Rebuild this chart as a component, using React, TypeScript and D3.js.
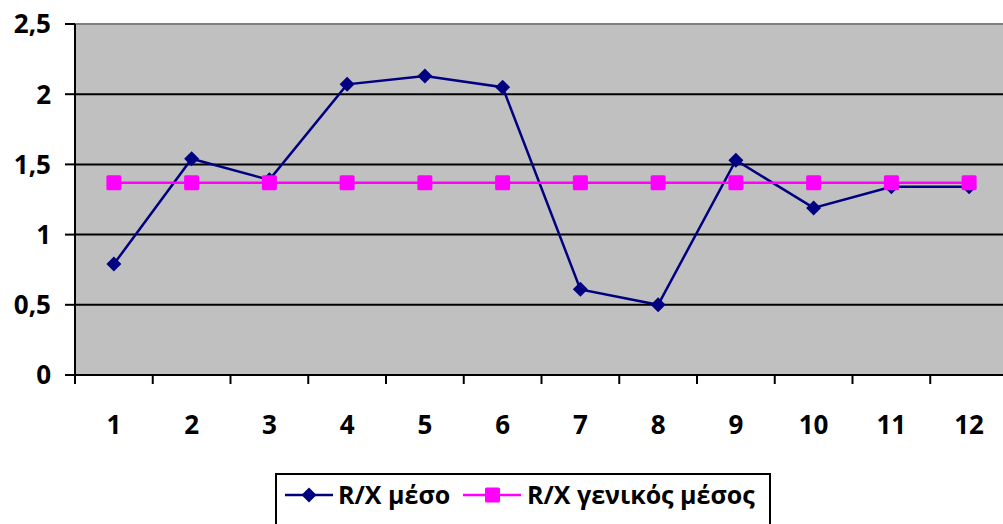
import React from "react";
import * as d3 from "d3";

const categories = ["1", "2", "3", "4", "5", "6", "7", "8", "9", "10", "11", "12"];
const rxMean = [0.79, 1.54, 1.39, 2.07, 2.13, 2.05, 0.61, 0.5, 1.53, 1.19, 1.34, 1.34];
const rxOverallMean = [1.37, 1.37, 1.37, 1.37, 1.37, 1.37, 1.37, 1.37, 1.37, 1.37, 1.37, 1.37];
const yTicks = [0, 0.5, 1, 1.5, 2, 2.5];
const seriesNames = ["R/X μέσο", "R/X γενικός μέσος"];

const W = 1003;
const H = 524;
const FONT = "'Open Sans', 'Liberation Sans', sans-serif";

export default function App() {
  const left = 75;
  const top = 24;
  const bottom = 375;
  const bandW = 77.75;
  const x = d3.scaleBand<string>().domain(categories).range([left, left + bandW * categories.length]).padding(0);
  const y = d3.scaleLinear().domain([0, 2.5]).range([bottom, top]);
  const cx = (c: string) => (x(c) as number) + x.bandwidth() / 2;
  const line = d3.line<number>().x((_, i) => cx(categories[i])).y((v) => y(v));
  const fmt = (v: number) => String(v).replace(".", ",");
  const right = left + bandW * categories.length;
  const diamond = (px: number, py: number, r: number) => `M${px},${py - r}L${px + r},${py}L${px},${py + r}L${px - r},${py}Z`;

  const legY = 495;

  return (
    <svg width={W} height={H} style={{ position: "absolute", left: 0, top: 0, background: "#fff" }} fontFamily={FONT}>
      <rect x={left} y={top} width={right - left} height={bottom - top} fill="#c0c0c0" />
      <line x1={left} x2={right} y1={top} y2={top} stroke="#808080" strokeWidth={2} />
      {yTicks.filter((t) => t > 0 && t < 2.5).map((t) => (
        <line key={t} x1={left} x2={right} y1={y(t)} y2={y(t)} stroke="#000" strokeWidth={2} />
      ))}
      {/* axes */}
      <line x1={left} x2={left} y1={top} y2={bottom + 1} stroke="#000" strokeWidth={2} />
      <line x1={left - 1} x2={right} y1={bottom} y2={bottom} stroke="#000" strokeWidth={2} />
      {yTicks.map((t) => (
        <g key={"yt" + t}>
          <line x1={left - 10} x2={left} y1={y(t)} y2={y(t)} stroke="#000" strokeWidth={2} />
          <text x={51} y={y(t)} dy="0.36em" textAnchor="end" fontSize={26} fontWeight="bold" fill="#000">
            {fmt(t)}
          </text>
        </g>
      ))}
      {categories.map((c) => (
        <g key={"xt" + c}>
          <line x1={x(c) as number} x2={x(c) as number} y1={bottom} y2={bottom + 9} stroke="#000" strokeWidth={2} />
          <text x={cx(c)} y={425} dy="0.36em" textAnchor="middle" fontSize={26} fontWeight="bold" fill="#000">
            {c}
          </text>
        </g>
      ))}
      {/* series 1 */}
      <path d={line(rxMean) || ""} fill="none" stroke="#000080" strokeWidth={2.5} />
      {rxMean.map((v, i) => (
        <path key={"d" + i} d={diamond(cx(categories[i]), y(v), 7.5)} fill="#000080" />
      ))}
      {/* series 2 */}
      <path d={line(rxOverallMean) || ""} fill="none" stroke="#ff00ff" strokeWidth={2.5} />
      {rxOverallMean.map((v, i) => (
        <rect key={"s" + i} x={cx(categories[i]) - 7.5} y={y(v) - 7.5} width={15} height={15} rx={1.5} fill="#ff00ff" />
      ))}
      {/* legend */}
      <rect x={276} y={474} width={494} height={70} fill="#fff" stroke="#000" strokeWidth={2} />
      <line x1={285} x2={333} y1={legY} y2={legY} stroke="#000080" strokeWidth={2.5} />
      <path d={diamond(309, legY, 7.5)} fill="#000080" />
      <text x={338} y={legY} dy="0.36em" fontSize={25} fontWeight="bold" fill="#000">{seriesNames[0]}</text>
      <line x1={463} x2={521} y1={legY} y2={legY} stroke="#ff00ff" strokeWidth={2.5} />
      <rect x={485} y={legY - 7.5} width={15} height={15} rx={1.5} fill="#ff00ff" />
      <text x={527} y={legY} dy="0.36em" fontSize={25} fontWeight="bold" fill="#000">{seriesNames[1]}</text>
    </svg>
  );
}
